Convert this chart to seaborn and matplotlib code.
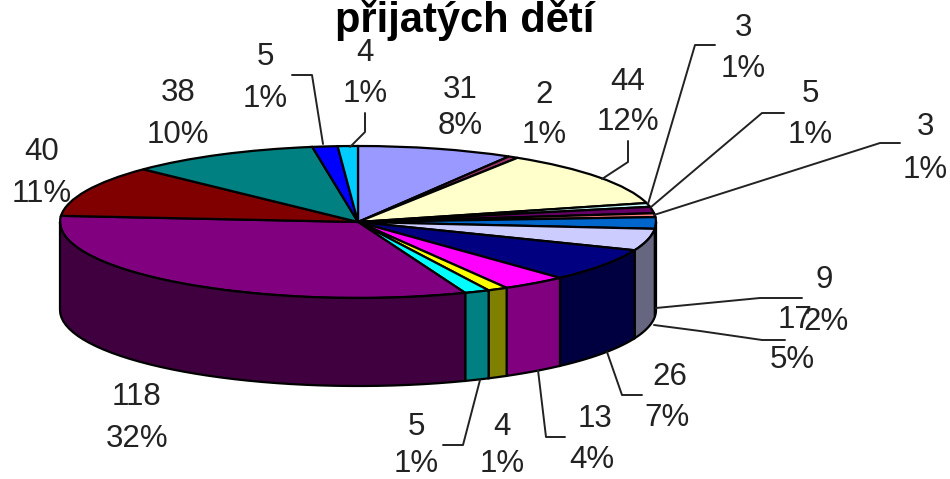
import numpy as np
import seaborn as sns
import matplotlib.pyplot as plt

# hodnoty z grafu, od 12 hodin po smeru hodinovych rucicek
values = [31, 2, 44, 3, 5, 3, 9, 17, 26, 13, 4, 5, 118, 40, 38, 5, 4]
percents = ["8%", "1%", "12%", "1%", "1%", "1%", "2%", "5%", "7%", "4%", "1%", "1%",
            "32%", "11%", "10%", "1%", "1%"]
title_text = "přijatých dětí"

pie_colors = ["#9999FF", "#993366", "#FFFFCC", "#CCFFFF", "#660066", "#FF8080", "#0066CC",
              "#CCCCFF", "#000080", "#FF00FF", "#FFFF00", "#00FFFF", "#800080", "#800000",
              "#008080", "#0000FF", "#00CCFF"]

# pozice popisku v pixelech (x, y hodnoty, x, y procenta)
label_pos = [(460, 90, 460, 126), (544, 95, 544, 135), (628, 82, 628, 122), (743, 28, 743, 69),
             (810, 94, 810, 135), (925, 127, 925, 170), (824, 280, 826, 322), (795, 320, 792, 360),
             (670, 377, 667, 418), (595, 419, 592, 460), (502, 427, 502, 464), (416, 427, 416, 464),
             (137, 397, 137, 439), (42, 152, 42, 194), (178, 93, 178, 135), (265, 57, 265, 99),
             (365, 53, 365, 94)]

leaders = [[(602, 179), (628, 162), (628, 141)],
           [(648, 204), (695, 45), (715, 45)],
           [(651, 207), (762, 113), (784, 113)],
           [(654, 215), (880, 143), (900, 143)],
           [(656, 308), (760, 298), (802, 298)],
           [(654, 325), (700, 331), (762, 340), (785, 340)],
           [(607, 352), (622, 395), (642, 395)],
           [(538, 370), (546, 437), (565, 437)],
           [(480, 380), (463, 445), (443, 445)],
           [(323, 144), (312, 75), (292, 75)],
           [(350, 147), (365, 132), (365, 113)]]

W, H = 950, 479
cx, cy, rx, ry, depth = 358, 222, 298, 76, 88

sns.set_theme(style="white")
plt.rcParams['font.family'] = ['Liberation Sans', 'DejaVu Sans']
palette = sns.color_palette(pie_colors)

fig = plt.figure(figsize=(W / 100, H / 100), dpi=100)
ax = fig.add_axes([0, 0, 1, 1])

wedges, _ = ax.pie(values, startangle=90, counterclock=False, colors=palette,
                   wedgeprops={"edgecolor": "black", "linewidth": 1.6})
ax.set_aspect("auto")
ax.set_xlim(-cx / rx, (W - cx) / rx)
ax.set_ylim((cy - H) / ry, cy / ry)

# bocni stena, jen predni pulka kolace
d = depth / ry
for w, col in zip(wedges, palette):
    t1, t2 = max(w.theta1, -180), min(w.theta2, 0)
    if t2 <= t1:
        continue
    t = np.radians(np.linspace(t1, t2, 40))
    xs = np.r_[np.cos(t), np.cos(t[::-1])]
    ys = np.r_[np.sin(t), np.sin(t[::-1]) - d]
    ax.fill(xs, ys, facecolor=np.array(col) * 0.5, edgecolor="black", linewidth=1.6)

# vrstva s popisky v pixelech
top = fig.add_axes([0, 0, 1, 1])
top.set_xlim(0, W)
top.set_ylim(H, 0)
top.axis("off")

for pts in leaders:
    top.plot([p[0] for p in pts], [p[1] for p in pts], color="#222222", lw=1.4)

for v, p, (x1, y1, x2, y2) in zip(values, percents, label_pos):
    top.text(x1, y1, str(v), ha="center", va="center", fontsize=22.5, color="#222222")
    top.text(x2, y2, p, ha="center", va="center", fontsize=22.5, color="#222222")

top.text(465, 32, title_text, ha="center", va="baseline", fontsize=30,
         fontweight="bold", color="black")

fig.savefig("out.png", dpi=100)
